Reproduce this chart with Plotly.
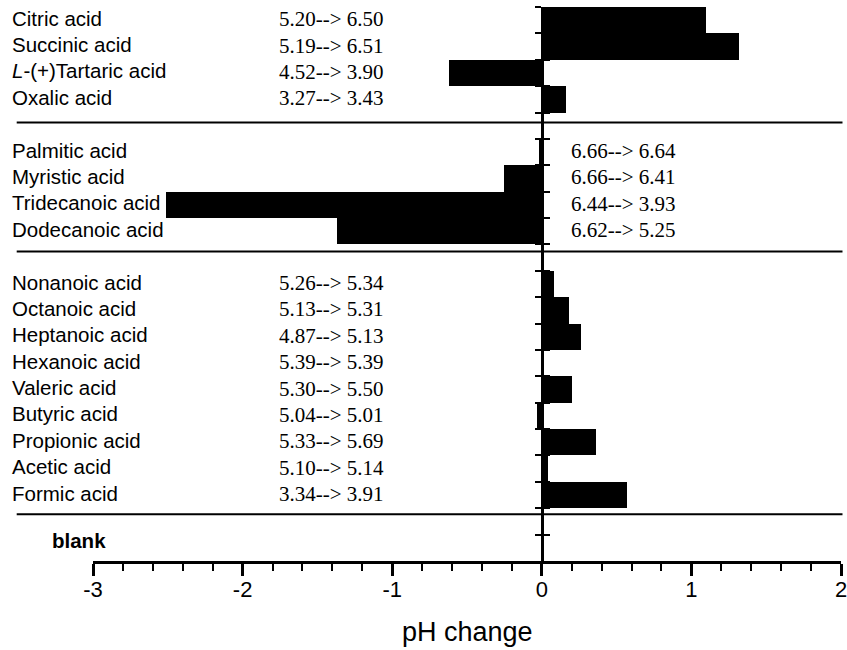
import plotly.graph_objects as go

# ---- data ----
group1_names = ["Citric acid", "Succinic acid", "<i>L</i>-(+)Tartaric acid", "Oxalic acid"]
group1_values = [1.10, 1.32, -0.62, 0.16]
group1_ph = ["5.20--> 6.50", "5.19--> 6.51", "4.52--> 3.90", "3.27--> 3.43"]

group2_names = ["Palmitic acid", "Myristic acid", "Tridecanoic acid", "Dodecanoic acid"]
group2_values = [-0.02, -0.25, -2.51, -1.37]
group2_ph = ["6.66--> 6.64", "6.66--> 6.41", "6.44--> 3.93", "6.62--> 5.25"]

group3_names = ["Nonanoic acid", "Octanoic acid", "Heptanoic acid", "Hexanoic acid",
                "Valeric acid", "Butyric acid", "Propionic acid", "Acetic acid", "Formic acid"]
group3_values = [0.08, 0.18, 0.26, 0.00, 0.20, -0.03, 0.36, 0.04, 0.57]
group3_ph = ["5.26--> 5.34", "5.13--> 5.31", "4.87--> 5.13", "5.39--> 5.39",
             "5.30--> 5.50", "5.04--> 5.01", "5.33--> 5.69", "5.10--> 5.14", "3.34--> 3.91"]

blank_names = ["<b>blank</b>"]
blank_values = [0.0]

x_ticks = [-3, -2, -1, 0, 1, 2]
x_title = "pH change"

# ---- build slot positions (one empty slot between groups) ----
groups = [
    (group1_names, group1_values, group1_ph, "left"),
    (group2_names, group2_values, group2_ph, "right"),
    (group3_names, group3_values, group3_ph, "left"),
    (blank_names, blank_values, None, None),
]

names, values, ypos = [], [], []
ph_texts = []  # (y, text, side)
separators = []
slot = 0
for gi, (gn, gv, gp, side) in enumerate(groups):
    for i, (n, v) in enumerate(zip(gn, gv)):
        names.append(n)
        values.append(v)
        ypos.append(slot + 0.5)
        if gp is not None:
            ph_texts.append((slot + 0.5, gp[i], side))
        slot += 1
    if gi < len(groups) - 1:
        separators.append(slot)
        slot += 1
n_slots = slot
sep_offsets = [0.38, 0.27, 0.23]

fig = go.Figure()
fig.add_trace(go.Bar(
    x=values, y=ypos, orientation="h", width=1.0,
    marker=dict(color="black", line=dict(width=0)),
    hoverinfo="skip", showlegend=False,
))
# helper trace for the second (inside-tick) y axis
fig.add_trace(go.Scatter(x=[None], y=[None], yaxis="y2", showlegend=False, hoverinfo="skip"))

# category labels
for y, n in zip(ypos, names):
    is_blank = "blank" in n
    fig.add_annotation(
        x=-0.111 if not is_blank else -0.058, xref="paper", y=y, yref="y",
        text=n, showarrow=False, xanchor="left", yanchor="middle",
        yshift=2 if not is_blank else 7,
        font=dict(family="Liberation Sans", size=20.5, color="black"),
    )

# pH labels
for y, t, side in ph_texts:
    fig.add_annotation(
        x=-1.77 if side == "left" else 0.18, xref="x", y=y, yref="y",
        text=t, showarrow=False, xanchor="left", yanchor="middle", yshift=1,
        font=dict(family="Liberation Serif", size=21, color="black"),
    )

# separator lines between groups
for s, off in zip(separators, sep_offsets):
    fig.add_shape(type="line", xref="paper", yref="y",
                  x0=-0.102, x1=1.002, y0=s + off, y1=s + off,
                  line=dict(color="black", width=2))

# axis title
fig.add_annotation(
    x=0.5, xref="paper", y=-0.128, yref="paper", text=x_title, showarrow=False,
    xanchor="center", yanchor="middle",
    font=dict(family="Liberation Sans", size=27, color="black"),
)

fig.update_layout(
    width=847, height=650,
    margin=dict(l=93, r=6, t=7, b=89, autoexpand=False),
    plot_bgcolor="white", paper_bgcolor="white",
    bargap=0,
    xaxis=dict(
        range=[-3, 2], tickvals=x_ticks, ticktext=[str(v) for v in x_ticks],
        showgrid=False, zeroline=False, automargin=False,
        showline=True, linecolor="black", linewidth=2.5,
        ticks="outside", ticklen=12, tickwidth=2.5, tickcolor="black",
        minor=dict(dtick=0.2, ticks="outside", ticklen=7, tickwidth=2, tickcolor="black", showgrid=False),
        tickfont=dict(family="Liberation Sans", size=22, color="black"),
        ticklabeloverflow="allow", ticklabelstandoff=-5,
        fixedrange=True,
    ),
    yaxis=dict(
        range=[n_slots, 0], anchor="free", position=0.6,
        showgrid=False, zeroline=False, automargin=False,
        showline=True, linecolor="black", linewidth=2.5,
        tickvals=list(range(0, n_slots)), ticks="outside", ticklen=6,
        tickwidth=2, tickcolor="black", showticklabels=False,
        fixedrange=True,
    ),
    yaxis2=dict(
        range=[n_slots, 0], overlaying="y", anchor="free", position=0.6,
        showgrid=False, zeroline=False, showline=False, automargin=False,
        tickvals=list(range(0, n_slots)), ticks="inside", ticklen=7,
        tickwidth=2, tickcolor="black", showticklabels=False,
        fixedrange=True,
    ),
)

fig.write_html(
    "out.html",
    config={"displayModeBar": False},
    post_script="document.body.style.margin='0px';document.body.style.overflow='hidden';",
)
